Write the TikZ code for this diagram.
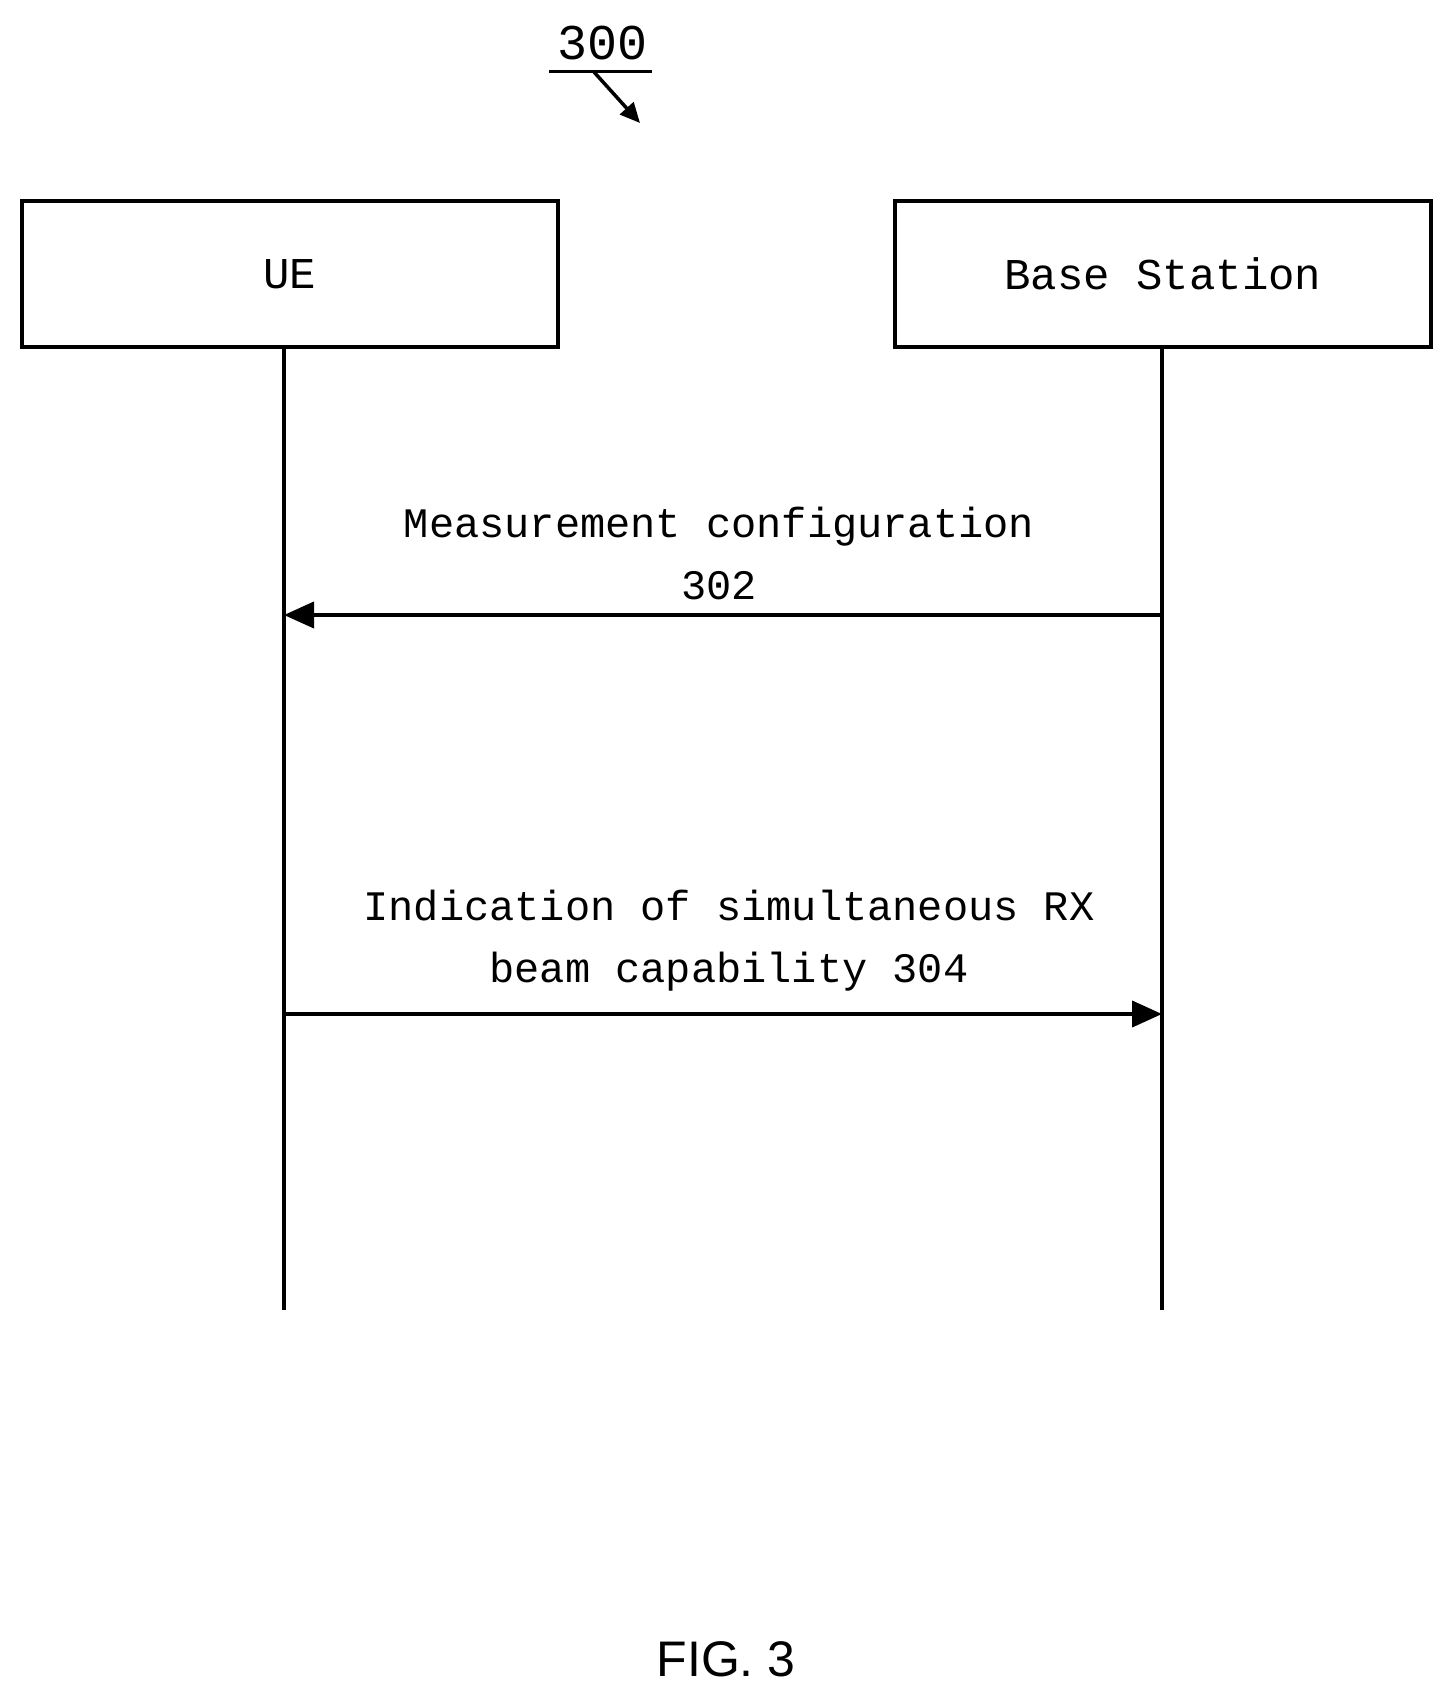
\documentclass[tikz,border=0pt]{standalone}
\usepackage{fontspec}
\setmainfont{Liberation Mono}
\setsansfont{Liberation Sans}
\usetikzlibrary{arrows.meta}
\begin{document}
\begin{tikzpicture}[x=1pt,y=-1pt,
  ent/.style={draw,line width=4pt,minimum width=536pt,minimum height=146pt,font=\fontsize{44}{50}\selectfont},
  life/.style={line width=3.5pt},
  msg/.style={line width=4pt,-{Triangle[length=30pt,width=26pt]}},
  lbl/.style={font=\fontsize{42}{62}\selectfont,align=center}]
\useasboundingbox (0,0) rectangle (1453,1699);
\node[ent] (ue) at (290,274) {UE};
\node[ent] (bs) at (1163,274) {Base Station};
\coordinate (ueend) at (284,1310);
\coordinate (bsend) at (1162,1310);
\draw[life] (ue.south -| ueend) -- (ueend);
\draw[life] (bs.south -| bsend) -- (bsend);
\coordinate (a1s) at (1162,615);
\coordinate (a1e) at (284,615);
\coordinate (a2s) at (284,1014);
\coordinate (a2e) at (1162,1014);
\draw[msg] (a1s) -- (a1e);
\draw[msg] (a2s) -- (a2e);
\node[lbl] (l1) at (719,553) {Measurement configuration\\302};
\node[lbl] (l2) at (729,941) {Indication of simultaneous RX\\beam capability 304};
\node[font=\fontsize{50}{56}\selectfont] (n300) at (602,43) {300};
\draw[line width=3pt] (549,72) -- (652,72);
\coordinate (ps) at (594,72);
\coordinate (pe) at (640,123);
\draw[line width=3.5pt,-{Triangle[length=20pt,width=18pt]}] (ps) -- (pe);
\node[font=\sffamily\fontsize{50}{56}\selectfont] (fig) at (726,1659) {FIG. 3};
\end{tikzpicture}
\end{document}
